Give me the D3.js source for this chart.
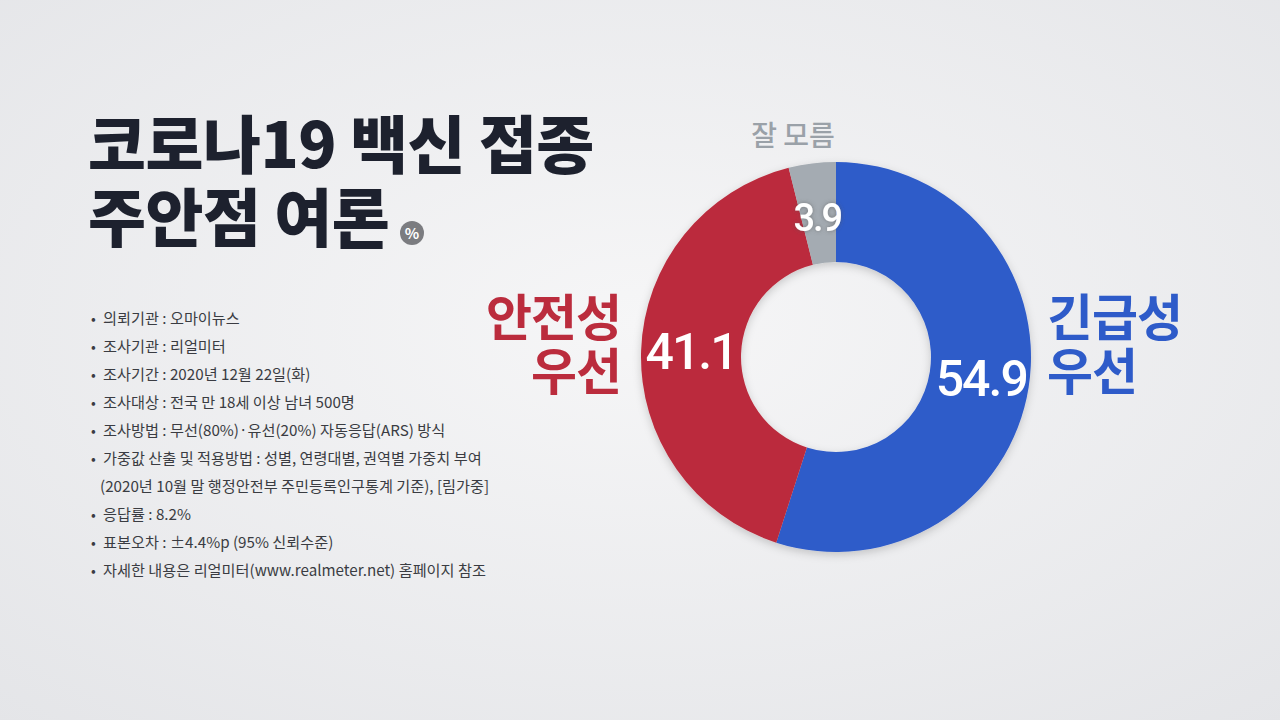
<!DOCTYPE html>
<html><head><meta charset="utf-8">
<script src="https://cdn.jsdelivr.net/npm/d3@7"></script>
<style>
html,body{margin:0;padding:0;width:1280px;height:720px;overflow:hidden;}
body{font-family:"Noto Sans CJK KR","Noto Sans",sans-serif;}
</style></head>
<body>
<svg id="chart" width="1280" height="720"></svg>
<script>
const categories = ["긴급성 우선", "안전성 우선", "잘 모름"];
const values = [54.9, 41.1, 3.9];
const colors = ["#2e5bc9", "#bb2c3d", "#a4abb2"];
const titleLines = ["코로나19 백신 접종", "주안점 여론"];
const notes = [
  "의뢰기관 : 오마이뉴스",
  "조사기관 : 리얼미터",
  "조사기간 : 2020년 12월 22일(화)",
  "조사대상 : 전국 만 18세 이상 남녀 500명",
  "조사방법 : 무선(80%)·유선(20%) 자동응답(ARS) 방식",
  "가중값 산출 및 적용방법 : 성별, 연령대별, 권역별 가중치 부여",
  "(2020년 10월 말 행정안전부 주민등록인구통계 기준), [림가중]",
  "응답률 : 8.2%",
  "표본오차 : ±4.4%p (95% 신뢰수준)",
  "자세한 내용은 리얼미터(www.realmeter.net) 홈페이지 참조"
];

const svg = d3.select("#chart");
const defs = svg.append("defs");
const bg = defs.append("radialGradient").attr("id","bg").attr("cx","50%").attr("cy","45%").attr("r","75%");
bg.append("stop").attr("offset","0%").attr("stop-color","#f6f6f7");
bg.append("stop").attr("offset","100%").attr("stop-color","#e4e5e8");
const sh = defs.append("filter").attr("id","shadow").attr("x","-20%").attr("y","-20%").attr("width","140%").attr("height","140%");
sh.append("feDropShadow").attr("dx",0).attr("dy",3).attr("stdDeviation",4).attr("flood-color","#000").attr("flood-opacity",0.18);
const tsh = defs.append("filter").attr("id","tshadow").attr("x","-20%").attr("y","-20%").attr("width","140%").attr("height","140%");
tsh.append("feDropShadow").attr("dx",0).attr("dy",0).attr("stdDeviation",2).attr("flood-color","#555").attr("flood-opacity",0.6);

svg.append("rect").attr("width",1280).attr("height",720).attr("fill","url(#bg)");

// Title (one text element, two lines)
const title = svg.append("g");
const tt = title.append("text").attr("font-size",63).attr("font-weight",900).attr("fill","#1d212e")
  .attr("letter-spacing",-0.5);
titleLines.forEach((t,i)=>{
  tt.append("tspan").attr("x",88).attr("y",168+i*73).text(t);
});
title.append("circle").attr("cx",412).attr("cy",233).attr("r",12).attr("fill","#7b7c80");
title.append("text").attr("x",412).attr("y",239).attr("text-anchor","middle")
  .attr("font-size",15).attr("font-weight",700).attr("fill","#fff").text("%");

// Notes
const ng = svg.append("g");
notes.forEach((t,i)=>{
  const y = 324 + i*28;
  if (i !== 6) ng.append("text").attr("x",91).attr("y",y).attr("font-size",14).attr("fill","#3a3c42").text("•");
  ng.append("text").attr("x",i===6?100:103).attr("y",y).attr("font-size",15.2).attr("fill","#3a3c42")
    .attr("letter-spacing",0).text(t);
});

// Donut
const cx = 836, cy = 357, rOuter = 195, rInner = 95;
const pie = d3.pie().sort(null).value(d=>d);
const arcs = pie(values);
const arc = d3.arc().innerRadius(rInner).outerRadius(rOuter);
const dg = svg.append("g").attr("transform",`translate(${cx},${cy})`);
dg.append("g").attr("filter","url(#shadow)").selectAll("path").data(arcs).join("path")
  .attr("d",arc).attr("fill",(d,i)=>colors[i]);

// Value labels
const valueFont = [50, 50, 38];
dg.selectAll("text.val").data(arcs).join("text").attr("class","val")
  .attr("transform",(d,i)=>{
    const c = arc.centroid(d);
    const off = [[2,0],[0,0],[-1,5]][i];
    return `translate(${c[0]+off[0]},${c[1]+off[1]})`;
  })
  .attr("text-anchor","middle").attr("dominant-baseline","central")
  .attr("font-family","Roboto, 'Noto Sans', sans-serif")
  .attr("font-size",(d,i)=>valueFont[i]).attr("font-weight",500)
  .attr("letter-spacing",-2)
  .attr("fill","#fff")
  .attr("filter",(d,i)=>i===2?"url(#tshadow)":null)
  .text(d=>d.data.toFixed(1));

// Category labels (one text element each, two lines)
const catG = svg.append("g");
function twoLine(text, x, y, anchor, color, size){
  const t = catG.append("text").attr("text-anchor",anchor)
    .attr("font-size",size).attr("font-weight",700).attr("fill",color).attr("letter-spacing",-1);
  text.split(" ").forEach((p,i)=>{
    t.append("tspan").attr("x",x).attr("y",y+i*54).text(p);
  });
}
twoLine(categories[0], 1047, 336, "start", colors[0], 50);
twoLine(categories[1], 621, 336, "end", colors[1], 50);
catG.append("text").attr("x",793).attr("y",146).attr("text-anchor","middle")
  .attr("font-size",28).attr("font-weight",500).attr("fill","#9aa1a8").text(categories[2]);
</script>
</body></html>
